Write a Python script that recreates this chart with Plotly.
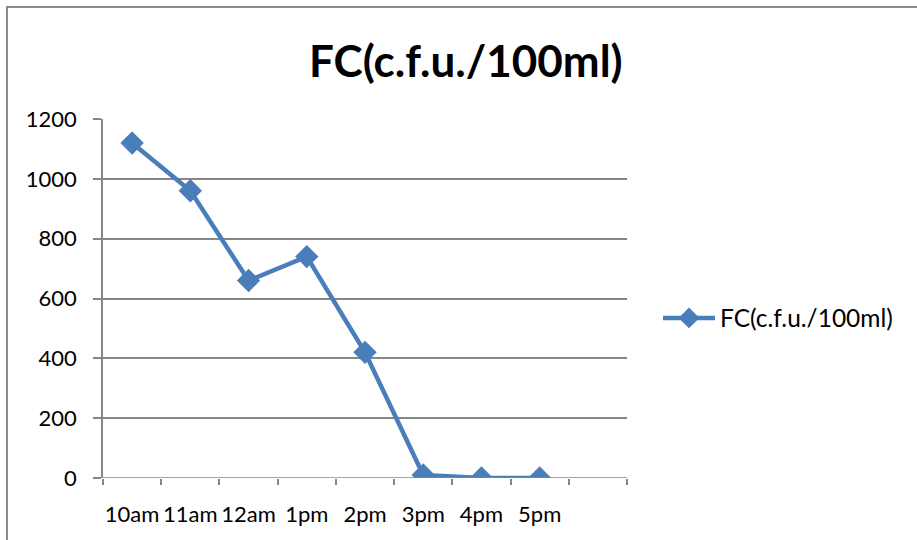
import plotly.graph_objects as go

# Fecal coliform counts over the day
times = ["10am", "11am", "12am", "1pm", "2pm", "3pm", "4pm", "5pm"]
fc_counts = [1120, 960, 660, 740, 420, 10, 0, 0]
y_ticks = [0, 200, 400, 600, 800, 1000, 1200]
series_name = "FC(c.f.u./100ml)"

FONT = "Lato, 'Open Sans', sans-serif"
BLUE = "#4a7ebb"
GRID = "#868686"

# Plot area in pixels (917x540 page)
L, R, T, B = 103, 627, 119, 478
W, H = 917, 540
pw, ph = R - L, B - T

def px_x(x):
    return (x - L) / pw

def px_y(y):
    return (B - y) / ph

x_idx = list(range(len(times)))

fig = go.Figure()
fig.add_trace(go.Scatter(
    x=x_idx, y=fc_counts, name=series_name, mode="lines+markers",
    line=dict(color=BLUE, width=4.5),
    marker=dict(symbol="diamond", size=18, color=BLUE),
))

fig.update_layout(
    width=W, height=H,
    margin=dict(l=L, r=W - R, t=T, b=H - B, pad=0),
    paper_bgcolor="white", plot_bgcolor="white",
    font=dict(family=FONT, color="black", size=22),
    title=dict(text="<b>" + series_name + "</b>", x=0.508, xanchor="center",
               y=1 - 62 / H, yanchor="middle",
               font=dict(size=44, family=FONT, color="black")),
    showlegend=True,
    legend=dict(x=px_x(658), xanchor="left", y=px_y(318), yanchor="middle",
                font=dict(size=24.5, family=FONT), bgcolor="rgba(0,0,0,0)",
                itemwidth=52),
    xaxis=dict(
        range=[-0.5, len(times) + 0.5],
        tickmode="array", tickvals=x_idx, ticktext=times,
        ticks="", showgrid=False, zeroline=False,
        showline=False, ticklabelstandoff=21,
        minor=dict(tick0=-0.5, dtick=1, ticks="outside", ticklen=6,
                   tickcolor=GRID, tickwidth=1.5, showgrid=False),
    ),
    yaxis=dict(
        range=[0, 1200], tickmode="array", tickvals=y_ticks,
        ticks="outside", ticklen=8, tickcolor=GRID, tickwidth=1.5,
        showgrid=True, gridcolor=GRID, gridwidth=1.5,
        zeroline=False, showline=True, linecolor=GRID, linewidth=1.5,
        ticklabelstandoff=12,
    ),
    shapes=[
        # bottom axis line
        dict(type="line", xref="paper", yref="y", x0=0, x1=1, y0=0, y1=0,
             line=dict(color=GRID, width=1.5)),
        # outer chart border
        dict(type="rect", xref="paper", yref="paper",
             x0=px_x(7), x1=px_x(940), y0=px_y(7), y1=px_y(560),
             line=dict(color="#8c8c8c", width=2), layer="above"),
    ],
)

fig.write_html("out.html")
